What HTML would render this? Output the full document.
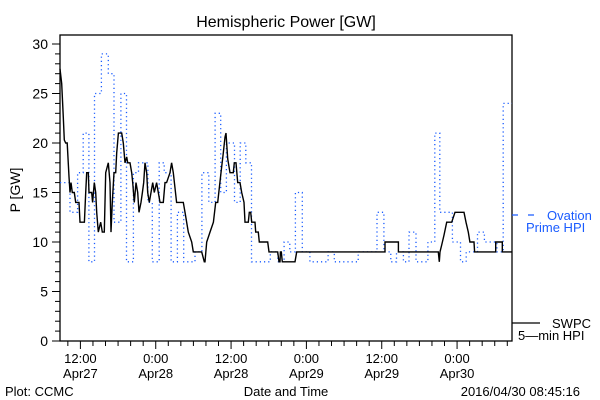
<!DOCTYPE html>
<html><head><meta charset="utf-8"><style>
html,body{margin:0;padding:0;background:#fff;width:600px;height:400px;overflow:hidden}
svg text{font-family:"Liberation Sans",sans-serif;fill:#000}
</style></head><body>
<svg id="chart" width="600" height="400" viewBox="0 0 600 400" xmlns="http://www.w3.org/2000/svg">
<text x="286" y="27" font-size="16" text-anchor="middle">Hemispheric Power [GW]</text>
<text x="0" y="0" font-size="14" text-anchor="middle" transform="translate(20,190) rotate(-90)">P [GW]</text>
<rect x="60" y="35" width="452" height="306" fill="none" stroke="#000" stroke-width="1.3"/>
<g id="yaxis"></g>
<g id="xaxis"></g>
<g id="series"></g>
<g>
<line x1="512" y1="215" x2="540" y2="215" stroke="#1a5cff" stroke-width="1.3" stroke-dasharray="6,10"/>
<text x="547" y="220" font-size="13" fill="#1a5cff" style="fill:#1a5cff">Ovation</text>
<text x="526" y="232" font-size="13" style="fill:#1a5cff">Prime HPI</text>
</g>
<g>
<line x1="512" y1="323" x2="540" y2="323" stroke="#000" stroke-width="1.3"/>
<text x="552" y="328" font-size="13">SWPC</text>
<text x="518" y="340" font-size="13">5—min HPI</text>
</g>
<text x="5" y="396" font-size="13">Plot: CCMC</text>
<text x="286" y="396" font-size="13" text-anchor="middle">Date and Time</text>
<text x="580" y="396" font-size="13" text-anchor="end">2016/04/30 08:45:16</text>
</svg>
<script>
// hours since 2016-04-27 08:45
const yTicks = [0,5,10,15,20,25,30];
const xTickHours = [3.25,15.25,27.25,39.25,51.25,63.25];
const xTickTimes = ["12:00","0:00","12:00","0:00","12:00","0:00"];
const xTickDates = ["Apr27","Apr28","Apr28","Apr29","Apr29","Apr30"];
const ovationT = [0,1.6,2.8,3.7,4.6,5.5,6.6,7.7,8.6,9.7,10.6,11.7,12.5,14.0,14.7,15.8,16.6,17.7,18.7,19.7,21.5,22.6,23.7,24.7,25.6,26.5,27.8,28.7,29.6,30.5,33.5,34.7,35.7,36.6,37.5,38.6,39.8,42.7,43.7,45.4,47.5,50.5,51.6,52.7,53.6,54.7,55.6,56.7,58.6,59.7,60.5,62.5,63.8,64.7,66.5,67.6,69.6,70.6];
const ovationV = [16,13,17,21,8,25,29,27,12,25,8,17,18,14,8,18,17,8,13,8,9,17,14,23,15,20,14,20,18,8,9,8,10,9,15,9,8,9,8,8,9,13,9,8,9,8,11,8,10,21,13,10,8,9,11,10,9,24];
const swpcT = [0,0.27,0.53,0.69,0.9,1.15,1.43,1.6,1.75,1.96,2.28,2.5,3.03,3.19,3.88,4.09,4.25,4.5,4.62,5.05,5.2,5.47,5.68,5.84,6.1,6.48,6.74,7.06,7.28,7.7,7.96,8.12,8.33,8.6,8.87,9.03,9.3,9.83,10.09,10.35,10.62,10.78,11.15,11.42,11.58,11.84,12.1,12.38,12.58,12.9,13.12,13.33,13.54,13.81,13.97,14.23,14.49,14.76,15.02,15.39,15.66,15.93,16.46,16.72,16.98,17.52,17.78,18.05,18.58,19.64,19.91,20.44,20.98,21.24,22.57,22.99,23.1,23.37,23.9,24.43,24.8,25.12,25.65,26.01,26.28,26.44,26.71,27.08,27.61,27.77,28.03,28.3,28.67,28.94,29.31,29.47,30,30.16,30.38,30.54,31.06,31.17,31.59,31.75,33.08,33.29,34.67,34.88,35.04,35.1,35.25,35.41,37.43,37.7,51.77,51.77,53.9,53.9,60.26,60.42,60.53,60.8,61.17,61.6,62.39,62.92,64.35,64.67,65.04,65.3,65.94,66.04,69.4,69.4,70.46,70.46,72];
const swpcV = [27.5,26,22.6,20.3,20,20,16.6,15,16,15,15,14,14,12,12,15,17,17,15,15,14,16,15,13,11,12,11,11,17,18,16,11,14,17,17,19,21,21,20,18,18.6,18,18,17,16,14,16,15,13,14,15,16,18,17,15,14,15,16,15,16,15,14,14,16,16,17,18,17,14,14,13,11,10,9,9,8,8,10,11,12,14,14,17,19,20.6,21,18.4,17,17,18,18,16,16,15,14,12,12,13,13,12,12,11,11,10,10,9,9,8,8,9,9,8,8,9,9,10,10,9,9,8,9,9.7,10.7,12,12,13,13,12,11,10,10,9,9,10,10,9,9];

const X0=60,X1=512,Y0=341,Y1=44,TMAX=72,VMAX=30;
function sx(h){return X0+(h/TMAX)*(X1-X0);}
function sy(v){return Y0-(v/VMAX)*(Y0-Y1);}
const NS="http://www.w3.org/2000/svg";
function mk(tag,attrs,parent){const e=document.createElementNS(NS,tag);for(const k in attrs)e.setAttribute(k,attrs[k]);parent.appendChild(e);return e;}
const ya=document.getElementById('yaxis'),xa=document.getElementById('xaxis'),sg=document.getElementById('series');
for(let v=0;v<=VMAX;v++){
  const major=v%5===0;
  const t=mk('line',{x1:X0-(major?8:5),x2:X0,y1:sy(v),y2:sy(v),stroke:'#000','stroke-width':1},ya);
  
  
}
yTicks.forEach(v=>{
  const t=mk('text',{x:X0-12,y:sy(v)+5,'font-size':14,'text-anchor':'end'},ya);
  t.textContent=String(v);
  
  
});
for(let h=1.25;h<=TMAX;h+=2){
  const major=xTickHours.some(m=>Math.abs(m-h)<0.01);
  const t=mk('line',{x1:sx(h),x2:sx(h),y1:Y0,y2:Y0+(major?8:5),stroke:'#000','stroke-width':1},xa);
  
  
}
xTickHours.forEach((h,i)=>{
  const a=mk('text',{x:sx(h),y:363,'font-size':13,'text-anchor':'middle'},xa);
  a.textContent=xTickTimes[i];
  
  
  const b=mk('text',{x:sx(h),y:378,'font-size':13,'text-anchor':'middle'},xa);
  b.textContent=xTickDates[i];
  
  
});
let d='';
ovationT.forEach((t,i)=>{
  const tEnd=i+1<ovationT.length?ovationT[i+1]:TMAX;
  d+=(i===0?'M':'L')+sx(t).toFixed(1)+','+sy(ovationV[i]).toFixed(1)+'L'+sx(tEnd).toFixed(1)+','+sy(ovationV[i]).toFixed(1);
});
const ov=mk('path',{d:d,fill:'none',stroke:'#1a5cff','stroke-width':1.3,'stroke-dasharray':'1.2,3'},sg);


let d2='';
swpcT.forEach((t,i)=>{d2+=(i===0?'M':'L')+sx(t).toFixed(1)+','+sy(swpcV[i]).toFixed(1);});
const sw=mk('path',{d:d2,fill:'none',stroke:'#000','stroke-width':1.4},sg);


</script>
</body></html>
